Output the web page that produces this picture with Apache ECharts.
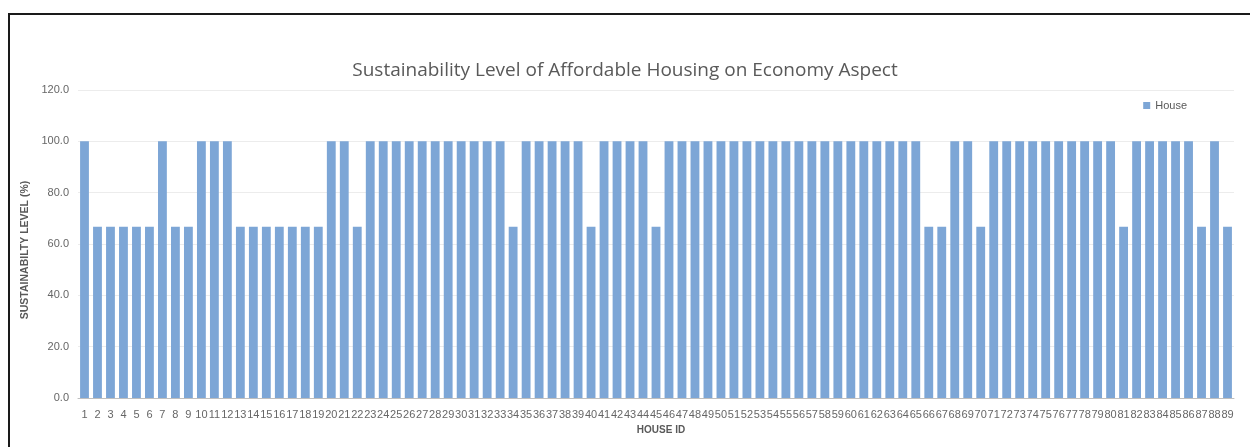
<!DOCTYPE html>
<html>
<head>
<meta charset="utf-8">
<script src="https://cdn.jsdelivr.net/npm/echarts@6/dist/echarts.min.js"></script>
<style>
html,body{margin:0;padding:0;background:#fff;}
#chart{width:1250px;height:447px;}
</style>
</head>
<body>
<div id="chart"></div>
<script>
const houseIds = [];
for (let i = 1; i <= 89; i++) houseIds.push(String(i));
const H = 100, L = 66.7;
const houseValues = [
  H, L, L, L, L, L, H, L, L, H,   // 1-10
  H, H, L, L, L, L, L, L, L, H,   // 11-20
  H, L, H, H, H, H, H, H, H, H,   // 21-30
  H, H, H, L, H, H, H, H, H, L,   // 31-40
  H, H, H, H, L, H, H, H, H, H,   // 41-50
  H, H, H, H, H, H, H, H, H, H,   // 51-60
  H, H, H, H, H, L, L, H, H, L,   // 61-70
  H, H, H, H, H, H, H, H, H, H,   // 71-80
  L, H, H, H, H, H, L, H, L       // 81-89
];
const yTicks = [0, 20, 40, 60, 80, 100, 120];

const chart = echarts.init(document.getElementById('chart'));
chart.setOption({
  backgroundColor: '#ffffff',
  animation: false,
  title: {
    text: 'Sustainability Level of Affordable Housing on Economy Aspect',
    left: 'center',
    top: 56,
    textStyle: { fontFamily: 'Open Sans', fontWeight: 'normal', fontSize: 19, color: '#595959' }
  },
  legend: {
    data: ['House'],
    right: 58,
    top: 95,
    icon: 'rect',
    itemWidth: 7,
    itemHeight: 7,
    itemGap: 4,
    textStyle: { fontFamily: 'Liberation Sans', fontSize: 11, color: '#595959' }
  },
  graphic: [
    { type: 'rect', shape: { x: 8, y: 13, width: 1260, height: 2 }, style: { fill: '#1a1a1a' } },
    { type: 'rect', shape: { x: 8, y: 13, width: 2, height: 460 }, style: { fill: '#1a1a1a' } }
  ],
  grid: { left: 78, right: 16, top: 90, bottom: 49 },
  xAxis: {
    type: 'category',
    data: houseIds,
    name: 'HOUSE ID',
    nameLocation: 'middle',
    nameGap: 27,
    nameTextStyle: { fontFamily: 'Liberation Sans', fontWeight: 'bold', fontSize: 10, color: '#595959', padding: [0, 0, 0, 10] },
    axisLine: { lineStyle: { color: '#bfbfbf', width: 1 } },
    axisTick: { show: false },
    axisLabel: {
      interval: 0,
      hideOverlap: false,
      margin: 11,
      fontFamily: 'Liberation Sans',
      fontSize: 11,
      color: '#666666'
    }
  },
  yAxis: {
    type: 'value',
    min: 0,
    max: 120,
    interval: 20,
    name: 'SUSTAINABILTY LEVEL (%)',
    nameLocation: 'middle',
    nameGap: 44,
    nameTextStyle: { fontFamily: 'Liberation Sans', fontWeight: 'bold', fontSize: 10.5, color: '#595959', padding: [0, 12, 0, 0] },
    axisLine: { show: false },
    axisTick: { show: false },
    splitLine: { lineStyle: { color: '#ececec', width: 1 } },
    axisLabel: {
      margin: 9,
      fontFamily: 'Liberation Sans',
      fontSize: 11,
      color: '#666666',
      formatter: v => v.toFixed(1)
    }
  },
  series: [{
    name: 'House',
    type: 'bar',
    data: houseValues,
    barCategoryGap: '32%',
    itemStyle: { color: '#7da6d6' }
  }]
});
</script>
</body>
</html>
